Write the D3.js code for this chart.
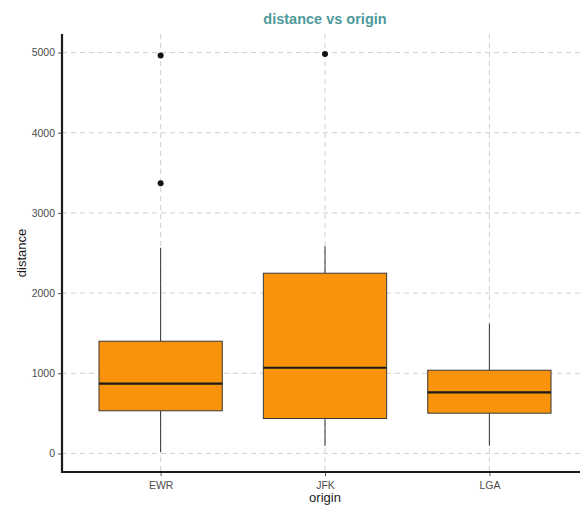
<!DOCTYPE html>
<html>
<head>
<meta charset="utf-8">
<script src="https://cdn.jsdelivr.net/npm/d3@7"></script>
<style>
  html, body { margin: 0; padding: 0; background: #fff; }
  svg { display: block; font-family: "Liberation Sans", Arial, Helvetica, sans-serif; }
</style>
</head>
<body>
<svg id="chart" width="580" height="512"></svg>
<script>
// ---- data ----
const categories = ["EWR", "JFK", "LGA"];
const whiskerLow  = [17, 94, 96];
const q1          = [532, 436, 502];
const median      = [872, 1069, 762];
const q3          = [1400, 2248, 1038];
const whiskerHigh = [2565, 2586, 1620];
const outliers    = [[3370, 4963], [4983], []];
const yTicks = [0, 1000, 2000, 3000, 4000, 5000];
const title = "distance vs origin";
const xTitle = "origin";
const yTitle = "distance";

// ---- layout ----
const svg = d3.select("#chart");
const mLeft = 62, mTop = 34, mBottom = 472, mRight = 588;

const dataMin = d3.min(whiskerLow), dataMax = d3.max([...whiskerHigh, ...outliers.flat()]);
const pad = (dataMax - dataMin) * 0.05;
const y = d3.scaleLinear().domain([dataMin - pad, dataMax + pad]).range([mBottom, mTop]);
// discrete scale with 0.6 expansion on each side
const unit = (mRight - mLeft) / 3.2;
const x = d3.scalePoint().domain(categories).range([mLeft + unit * 0.6, mRight - unit * 0.6]);
const boxW = unit * 0.75;

const gridColor = "#d0d0d0";
// grid
svg.append("g").selectAll("line").data(yTicks).join("line")
  .attr("x1", mLeft).attr("x2", 580)
  .attr("y1", d => y(d)).attr("y2", d => y(d))
  .attr("stroke", gridColor).attr("stroke-width", 1).attr("stroke-dasharray", "5,4");
svg.append("g").selectAll("line").data(categories).join("line")
  .attr("x1", d => x(d)).attr("x2", d => x(d))
  .attr("y1", mTop).attr("y2", mBottom)
  .attr("stroke", gridColor).attr("stroke-width", 1).attr("stroke-dasharray", "5,4");

// boxes
const rows = categories.map((c, i) => ({c, lo: whiskerLow[i], q1: q1[i], med: median[i], q3: q3[i], hi: whiskerHigh[i], out: outliers[i]}));
const g = svg.append("g");
rows.forEach(r => {
  const cx = x(r.c);
  g.append("line").attr("x1", cx).attr("x2", cx).attr("y1", y(r.q3)).attr("y2", y(r.hi))
    .attr("stroke", "#333").attr("stroke-width", 1);
  g.append("line").attr("x1", cx).attr("x2", cx).attr("y1", y(r.q1)).attr("y2", y(r.lo))
    .attr("stroke", "#333").attr("stroke-width", 1);
  g.append("rect").attr("x", cx - boxW / 2).attr("width", boxW)
    .attr("y", y(r.q3)).attr("height", y(r.q1) - y(r.q3))
    .attr("fill", "#f9930b").attr("stroke", "#3a3a3a").attr("stroke-width", 1);
  g.append("line").attr("x1", cx - boxW / 2).attr("x2", cx + boxW / 2)
    .attr("y1", y(r.med)).attr("y2", y(r.med))
    .attr("stroke", "#1a1a1a").attr("stroke-width", 2.2);
  g.selectAll(null).data(r.out).join("circle")
    .attr("cx", cx).attr("cy", d => y(d)).attr("r", 3).attr("fill", "#111");
});

// axes
const yAxis = svg.append("g").attr("transform", `translate(${mLeft},0)`)
  .call(d3.axisLeft(y).tickValues(yTicks).tickFormat(d3.format("d")).tickSize(4).tickPadding(3));
yAxis.select(".domain").remove();
yAxis.selectAll(".tick line").attr("stroke", "#555");
yAxis.selectAll(".tick text").attr("fill", "#4d4d4d").style("font-size", "10.5px");

const xAxis = svg.append("g").attr("transform", `translate(0,${mBottom})`)
  .call(d3.axisBottom(x).tickSize(4).tickPadding(6));
xAxis.select(".domain").remove();
xAxis.selectAll(".tick line").attr("stroke", "#555");
xAxis.selectAll(".tick text").attr("fill", "#4d4d4d").style("font-size", "10.5px");

// axis lines
svg.append("line").attr("x1", mLeft).attr("x2", mLeft).attr("y1", mTop).attr("y2", mBottom + 1)
  .attr("stroke", "#1a1a1a").attr("stroke-width", 2.2);
svg.append("line").attr("x1", mLeft - 1).attr("x2", 580).attr("y1", mBottom).attr("y2", mBottom)
  .attr("stroke", "#1a1a1a").attr("stroke-width", 2.2);

// titles
svg.append("text").attr("x", (mLeft + mRight) / 2).attr("y", 24).attr("text-anchor", "middle")
  .attr("fill", "#4e9a9b").style("font-size", "14.5px").style("font-weight", "bold").text(title);
svg.append("text").attr("x", (mLeft + mRight) / 2).attr("y", 502).attr("text-anchor", "middle")
  .attr("fill", "#1a1a1a").style("font-size", "13px").text(xTitle);
svg.append("text").attr("transform", `translate(26,${(mTop + mBottom) / 2}) rotate(-90)`)
  .attr("text-anchor", "middle").attr("fill", "#1a1a1a").style("font-size", "13px").text(yTitle);
</script>
</body>
</html>
